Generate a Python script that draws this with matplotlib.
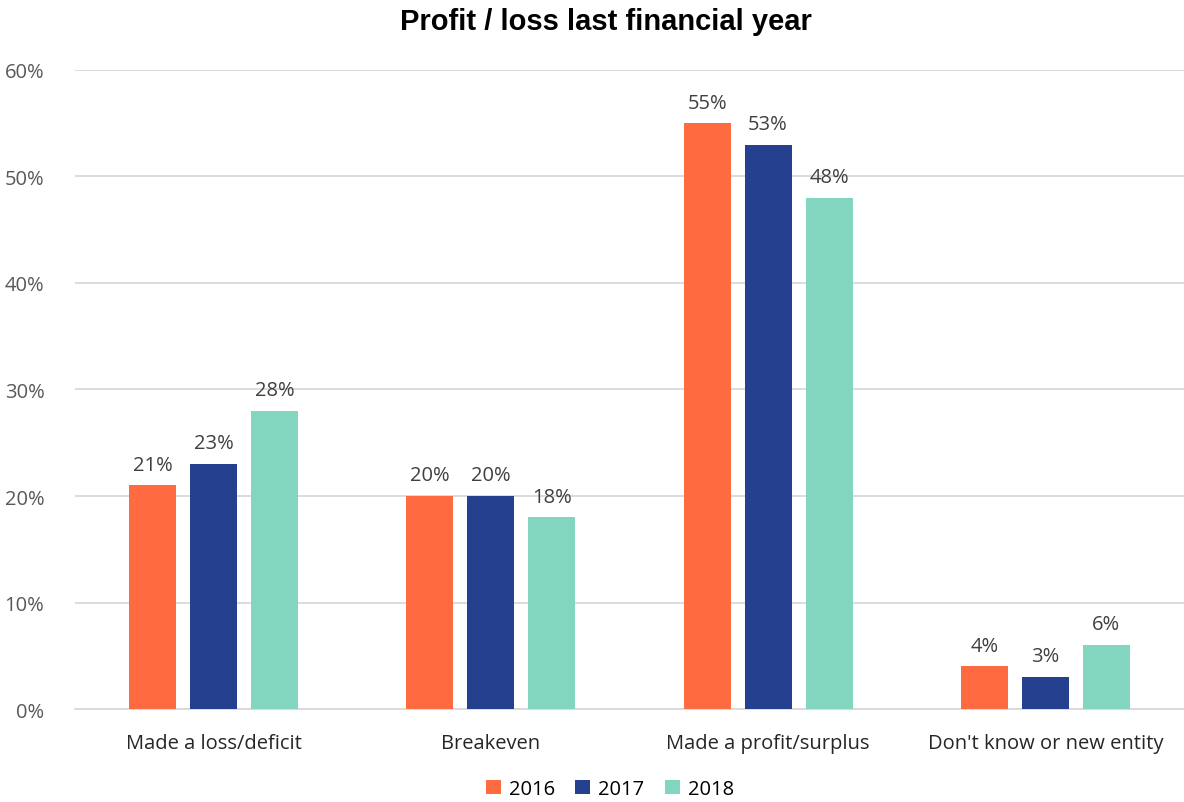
import matplotlib
matplotlib.use("Agg")
import matplotlib.pyplot as plt
import numpy as np

categories = ["Made a loss/deficit", "Breakeven", "Made a profit/surplus", "Don't know or new entity"]
years = ["2016", "2017", "2018"]
v2016 = [21, 20, 55, 4]
v2017 = [23, 20, 53, 3]
v2018 = [28, 18, 48, 6]
colors = ["#FF6B40", "#24408E", "#82D5BE"]

plt.rcParams['font.family'] = ['Open Sans', 'DejaVu Sans']

fig = plt.figure(figsize=(11.84, 8.03), dpi=100)
ax = fig.add_axes([0.0633, 0.1158, 0.9367, 0.7958])

x = np.arange(len(categories))
width = 0.17
step = 0.22
series = [v2016, v2017, v2018]
for i, (vals, col, yr) in enumerate(zip(series, colors, years)):
    xs = x + (i - 1) * step
    ax.bar(xs, [v / 100 for v in vals], width, color=col, label=yr, zorder=3)
    for xi, v in zip(xs, vals):
        ax.text(xi, v / 100 + 0.01, f"{v}%", ha='center', va='bottom',
                fontsize=14.5, color='#404040')

ax.set_xlim(-0.5, 3.5)
ax.set_ylim(0, 0.6)
ticks = np.arange(0, 0.61, 0.1)
ax.set_yticks(ticks)
ax.set_yticklabels([f"{int(round(t*100))}%" for t in ticks],
                   fontsize=14.5, color='#595959')
ax.set_xticks(x)
ax.set_xticklabels(categories, fontsize=14.5, color='#262626')
ax.tick_params(axis='both', length=0)
ax.tick_params(axis='y', pad=22)
ax.tick_params(axis='x', pad=17)
ax.grid(axis='y', color='#d9d9d9', linewidth=1.3, zorder=0)
for s in ['top', 'right', 'left']:
    ax.spines[s].set_visible(False)
ax.spines['bottom'].set_color('#d9d9d9')
ax.spines['bottom'].set_linewidth(1.3)

fig.suptitle("Profit / loss last financial year", family='Liberation Sans',
             fontweight='bold', fontsize=21, x=0.512, y=0.99)

fig.legend(loc='lower center', bbox_to_anchor=(0.515, 0.0), ncol=3, frameon=False,
           fontsize=14.5, handlelength=0.75, handleheight=0.75, handletextpad=0.4,
           columnspacing=1.0, borderpad=0.15, borderaxespad=0.0)

fig.savefig("out.png", dpi=100)
